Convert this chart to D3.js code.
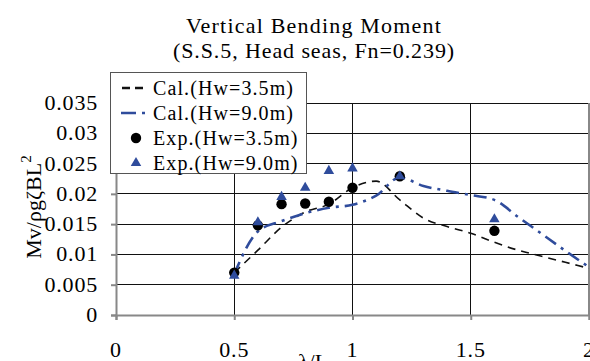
<!DOCTYPE html>
<html>
<head>
<meta charset="utf-8">
<script src="https://cdn.jsdelivr.net/npm/d3@7"></script>
<style>
  body { margin: 0; background: #fff; }
</style>
</head>
<body>
<script>
// data
const calX  = [0.5, 0.6, 0.7, 0.8, 0.9, 1.0, 1.1, 1.2, 1.3, 1.4, 1.5, 1.6, 1.7, 1.8, 1.9, 2.0];
const cal35 = [0.007, 0.0107, 0.0145, 0.017, 0.0183, 0.021, 0.0221, 0.019, 0.016, 0.0146, 0.0135, 0.012, 0.0107, 0.0097, 0.0087, 0.0077];
const cal90 = [0.0068, 0.0138, 0.0155, 0.0168, 0.0177, 0.0182, 0.0197, 0.0227, 0.0213, 0.0205, 0.0198, 0.019, 0.0162, 0.0134, 0.0106, 0.0079];
const expX  = [0.5, 0.6, 0.7, 0.8, 0.9, 1.0, 1.2, 1.6];
const exp35 = [0.007, 0.0148, 0.0183, 0.0184, 0.0187, 0.021, 0.0229, 0.0139];
const exp90 = [0.0065, 0.0153, 0.0195, 0.021, 0.0238, 0.0242, 0.0229, 0.0158];
const xTicks = [0, 0.5, 1, 1.5, 2];
const yTicks = [0, 0.005, 0.01, 0.015, 0.02, 0.025, 0.03, 0.035];
const legendNames = ["Cal.(Hw=3.5m)", "Cal.(Hw=9.0m)", "Exp.(Hw=3.5m)", "Exp.(Hw=9.0m)"];

const blue = "#2f4c9c";
const serif = "'Liberation Serif', 'DejaVu Serif', serif";

let svg = d3.select("body")
    .append("svg")
    .attr("width", 590)
    .attr("height", 361)
    .attr("font-family", serif);

const x = d3.scaleLinear().domain([0, 2]).range([116, 589]);
const y = d3.scaleLinear().domain([0, 0.035]).range([315, 103]);

// titre
svg.append("text")
    .attr("x", 314).attr("y", 33)
    .attr("text-anchor", "middle")
    .attr("font-family", serif)
    .style("font-size", "22px")
    .style("letter-spacing", "1.2px")
    .text("Vertical Bending Moment");
svg.append("text")
    .attr("x", 314).attr("y", 58)
    .attr("text-anchor", "middle")
    .attr("font-family", serif)
    .style("font-size", "22px")
    .style("letter-spacing", "0.9px")
    .text("(S.S.5, Head seas, Fn=0.239)");

// grille
svg.append("g")
    .selectAll("line")
    .data(yTicks.slice(1))
    .join("line")
    .attr("x1", x(0)).attr("x2", x(2))
    .attr("y1", d => y(d)).attr("y2", d => y(d))
    .attr("stroke", "#111")
    .attr("shape-rendering", "crispEdges");
svg.append("g")
    .selectAll("line")
    .data([0.5, 1, 1.5])
    .join("line")
    .attr("x1", d => x(d)).attr("x2", d => x(d))
    .attr("y1", y(0.035)).attr("y2", y(0))
    .attr("stroke", "#111")
    .attr("shape-rendering", "crispEdges");

// axes
svg.append("g")
    .attr("transform", `translate(${x(0)},0)`)
    .call(d3.axisLeft(y).tickValues(yTicks).tickSize(5).tickFormat(""))
    .call(g => g.selectAll("line, path").attr("stroke", "#888").attr("stroke-width", 2));
svg.append("g")
    .attr("transform", `translate(0,${y(0)})`)
    .call(d3.axisBottom(x).tickValues(xTicks).tickSize(5).tickFormat(""))
    .call(g => g.selectAll("line, path").attr("stroke", "#888").attr("stroke-width", 2));
svg.append("line")
    .attr("x1", x(2)).attr("x2", x(2))
    .attr("y1", y(0.035)).attr("y2", y(0))
    .attr("stroke", "#888").attr("stroke-width", 2);

// etiquettes des axes
svg.append("g")
    .selectAll("text")
    .data(yTicks)
    .join("text")
    .attr("x", 98)
    .attr("y", d => y(d) + 7)
    .attr("text-anchor", "end")
    .attr("font-family", serif)
    .style("font-size", "22px")
    .style("letter-spacing", "0.8px")
    .text(d => d === 0 ? "0" : String(+d.toFixed(3)));
svg.append("g")
    .selectAll("text")
    .data(xTicks)
    .join("text")
    .attr("x", d => x(d))
    .attr("y", 357)
    .attr("text-anchor", "middle")
    .attr("font-family", serif)
    .style("font-size", "22px")
    .style("letter-spacing", "0.8px")
    .text(d => String(d));

svg.append("text")
    .attr("x", 313).attr("y", 369)
    .attr("text-anchor", "middle")
    .attr("font-family", serif)
    .style("font-size", "22px")
    .text("λ/L");

let yt = svg.append("text")
    .attr("transform", "translate(41,207) rotate(-90)")
    .attr("text-anchor", "middle")
    .attr("font-family", serif)
    .style("font-size", "22px");
yt.append("tspan").text("Mv/ρgζBL");
yt.append("tspan").attr("dy", -10).style("font-size", "15px").text("2");

// courbes calculees
const pts = ys => calX.map((v, i) => [v, ys[i]]);
const line = d3.line().x(d => x(d[0])).y(d => y(d[1])).curve(d3.curveMonotoneX);

svg.append("path")
    .datum(pts(cal35))
    .attr("fill", "none")
    .attr("stroke", "#111")
    .attr("stroke-width", 1.6)
    .attr("stroke-dasharray", "8,6")
    .attr("d", line);
svg.append("path")
    .datum(pts(cal90))
    .attr("fill", "none")
    .attr("stroke", blue)
    .attr("stroke-width", 2.6)
    .attr("stroke-dasharray", "13,6,3,6")
    .attr("d", line);

// points experimentaux
svg.append("g")
    .selectAll("circle")
    .data(expX.map((v, i) => [v, exp35[i]]))
    .join("circle")
    .attr("cx", d => x(d[0]))
    .attr("cy", d => y(d[1]))
    .attr("r", 5.2)
    .attr("fill", "#000");
const tri = d3.symbol().type(d3.symbolTriangle).size(48);
svg.append("g")
    .selectAll("path")
    .data(expX.map((v, i) => [v, exp90[i]]))
    .join("path")
    .attr("transform", d => `translate(${x(d[0])},${y(d[1])})`)
    .attr("d", tri)
    .attr("fill", blue);

// legende
let leg = svg.append("g");
leg.append("rect")
    .attr("x", 110.5).attr("y", 72.5)
    .attr("width", 196).attr("height", 101)
    .attr("fill", "#fff")
    .attr("stroke", "#555");
const rowY = [88, 113, 138, 163];
leg.selectAll("text")
    .data(legendNames)
    .join("text")
    .attr("x", 153)
    .attr("y", (d, i) => rowY[i] + 7)
    .attr("font-family", serif)
    .style("font-size", "20px")
    .style("letter-spacing", "1.1px")
    .text(d => d);
leg.append("line")
    .attr("x1", 122).attr("x2", 147)
    .attr("y1", rowY[0]).attr("y2", rowY[0])
    .attr("stroke", "#111").attr("stroke-width", 2.6)
    .attr("stroke-dasharray", "8,5");
leg.append("line")
    .attr("x1", 121).attr("x2", 147)
    .attr("y1", rowY[1]).attr("y2", rowY[1])
    .attr("stroke", blue).attr("stroke-width", 2.6)
    .attr("stroke-dasharray", "15,6,3,6");
leg.append("circle")
    .attr("cx", 136).attr("cy", rowY[2])
    .attr("r", 5.2).attr("fill", "#000");
leg.append("path")
    .attr("transform", `translate(136,${rowY[3]})`)
    .attr("d", tri)
    .attr("fill", blue);
</script>
</body>
</html>
